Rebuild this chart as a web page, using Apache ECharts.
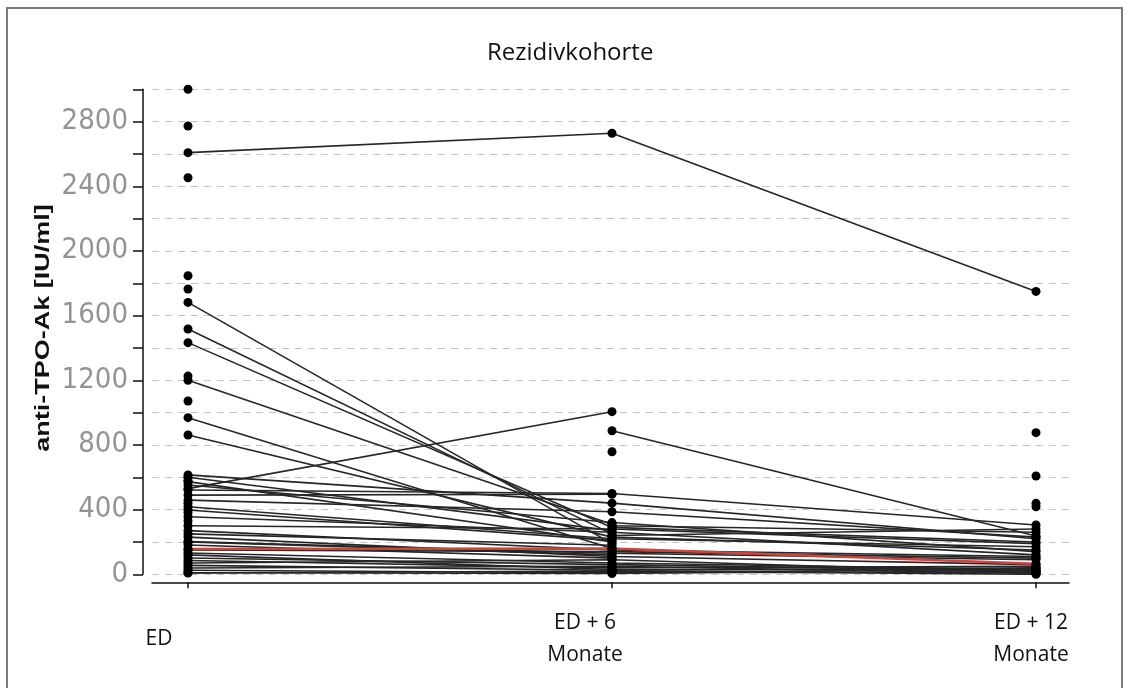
<!DOCTYPE html>
<html><head><meta charset="utf-8">
<script src="https://cdn.jsdelivr.net/npm/echarts@6/dist/echarts.min.js"></script>
<style>html,body{margin:0;padding:0;background:#fff}#c{width:1123px;height:688px}</style>
</head><body><div id="c"></div><script>
// Time points (x positions) and their labels
const timePoints = [0, 1, 2];
const timeLabels = ['ED', 'ED + 6\nMonate', 'ED + 12\nMonate'];

// anti-TPO-Ak [IU/ml] per patient; null = not measured
const edValues = [3000, 2773, 2608, 2453, 1847, 1765, 1682, 1517, 1433, 1226, 1200, 1072, 969, 862, 530,
  null, null, null, null, null, null,
  615, 573, 552, 521, 490, 459, 418, 398, 356, 300, 250, 202, 181, 157, 132, 101, 85, 70, 55, 39, 25, 8,
  120, 150, 200, 230, 270, 330, 380, 440, 580, null, null, 600, 10];
const m6Values = [null, null, 2728, null, null, null, 190, 250, 290, null, 310, null, 160, 230, 1006,
  888, 758, null, null, null, null,
  440, 200, 320, 500, 495, 387, 220, 210, 260, 280, 180, 130, 100, 160, 70, 60, 40, 90, 25, 50, 10, 20,
  30, 140, 120, 110, 150, null, null, null, null, 300, 240, 270, 5];
const m12Values = [null, null, 1750, null, null, null, null, null, 200, null, null, null, null, 150, null,
  237, null, 876, 608, 439, 418,
  220, null, 140, 305, null, 230, 170, null, 120, 190, null, 90, null, 65, 30, 20, 50, 10, 40, 5, 15, 0,
  25, 100, null, 60, 110, null, null, null, null, 260, 280, null, 35];
const highlightIndex = 34; // red line

const yMin = 0, yMax = 3000, yStep = 200, yLabelStep = 400;

const chart = echarts.init(document.getElementById('c'), null, {renderer: 'canvas'});

function val(v) { return v === null ? '-' : v; }

const lineSeries = edValues.map((v, i) => ({
  type: 'line',
  data: [[timePoints[0], val(v)], [timePoints[1], val(m6Values[i])], [timePoints[2], val(m12Values[i])]],
  symbol: 'none',
  showSymbol: false,
  connectNulls: false,
  silent: true,
  z: i === highlightIndex ? 4 : 2,
  lineStyle: {color: i === highlightIndex ? '#d0443f' : '#262626', width: i === highlightIndex ? 2.5 : 1.6}
}));

function pts(arr, x) { return arr.filter(v => v !== null).map(v => [x, v]); }
const pointSeries = [edValues, m6Values, m12Values].map((arr, k) => ({
  type: 'scatter',
  data: pts(arr, timePoints[k]),
  symbol: 'circle',
  symbolSize: 9,
  silent: true,
  z: 5,
  itemStyle: {color: '#000', opacity: 1}
}));

const labelShift = [58, 54, 10];

chart.setOption({
  animation: false,
  backgroundColor: '#fff',
  title: {
    text: 'Rezidivkohorte',
    left: 482, top: 36,
    textStyle: {fontFamily: 'Open Sans', fontSize: 24, fontWeight: 'normal', color: '#111'}
  },
  grid: {left: 152, right: 54, top: 89.3, bottom: 113.7, containLabel: false},
  xAxis: {
    type: 'value',
    min: -0.0849, max: 2.0778,
    offset: 8,
    axisLine: {show: true, onZero: false, lineStyle: {color: '#111', width: 1.5}},
    axisTick: {show: true, customValues: timePoints, length: 6, lineStyle: {color: '#111', width: 1.5}},
    axisLabel: {
      show: true, customValues: timePoints, margin: 57, verticalAlign: 'middle',
      formatter: function (v) {
        const k = timePoints.indexOf(Math.round(v));
        const key = 'l' + k;
        return timeLabels[k].split('\n').map(s => '{' + key + '|' + s + '}').join('\n');
      },
      rich: {
        l0: {fontFamily: 'Open Sans', fontSize: 21, color: '#111', lineHeight: 32, padding: [0, labelShift[0], 0, 0]},
        l1: {fontFamily: 'Open Sans', fontSize: 21, color: '#111', lineHeight: 32, padding: [0, labelShift[1], 0, 0]},
        l2: {fontFamily: 'Open Sans', fontSize: 21, color: '#111', lineHeight: 32, padding: [0, labelShift[2], 0, 0]}
      }
    },
    splitLine: {show: false}
  },
  yAxis: {
    type: 'value',
    min: yMin, max: yMax, interval: yStep,
    offset: 9,
    axisLine: {show: true, onZero: false, lineStyle: {color: '#111', width: 1.5}},
    axisTick: {show: true, length: 10, lineStyle: {color: '#111', width: 1.5}},
    axisLabel: {
      margin: 15,
      formatter: v => (v % yLabelStep === 0 && v < yMax) ? String(v) : '',
      fontFamily: '"Liberation Sans Narrow", "DejaVu Sans Condensed", sans-serif',
      fontSize: 29, color: '#939393'
    },
    splitLine: {show: true, lineStyle: {color: '#c4c4c4', width: 1.2, type: [7, 6]}}
  },
  graphic: [
    {type: 'rect', shape: {x: 7, y: 8, width: 1115, height: 700}, style: {fill: 'none', stroke: '#7a7a7a', lineWidth: 2}, z: 100, silent: true},
    {type: 'text', x: 43, y: 328, rotation: Math.PI / 2, scaleY: 0.76,
     style: {text: 'anti-TPO-Ak [IU/ml]', fontFamily: 'Liberation Sans', fontWeight: 'bold', fontSize: 27, fill: '#111', align: 'center', verticalAlign: 'middle'}}
  ],
  series: lineSeries.concat(pointSeries)
});
</script></body></html>
